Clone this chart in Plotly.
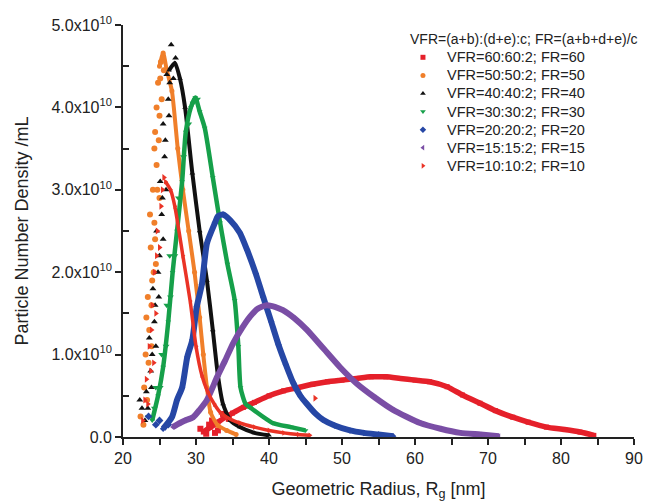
import plotly.graph_objects as go

# values, y in units of 1e10 particles/mL
labels = ['VFR=60:60:2; FR=60', 'VFR=50:50:2; FR=50', 'VFR=40:40:2; FR=40',
          'VFR=30:30:2; FR=30', 'VFR=20:20:2; FR=20', 'VFR=15:15:2; FR=15',
          'VFR=10:10:2; FR=10']
legend_title = 'VFR=(a+b):(d+e):c; FR=(a+b+d+e)/c'
colors = ['#e5202a', '#f07f2a', '#111111', '#16a04a', '#2647a5', '#7a4ea5', '#ea3326']
symbols = ['square', 'circle', 'triangle-up', 'triangle-down', 'diamond',
           'triangle-left', 'triangle-right']

fr60_x = [31.0, 32.0, 33.0, 34.0, 35.0, 36.5, 38, 40, 42, 44, 46, 48, 50, 52, 54, 56,
          58, 60, 62, 64.4, 66.5, 68.9, 71, 73.4, 75.5, 78, 80.5, 82.6, 84.5]
fr60_y = [0.06, 0.12, 0.18, 0.24, 0.29, 0.36, 0.42, 0.50, 0.56, 0.60, 0.64, 0.67, 0.69,
          0.71, 0.73, 0.73, 0.71, 0.69, 0.67, 0.61, 0.51, 0.41, 0.32, 0.24, 0.18, 0.12,
          0.09, 0.06, 0.02]
fr60_cloud_x = [30.6, 31.4, 32.2, 33.0, 31.8, 33.7, 34.5, 32.6]
fr60_cloud_y = [0.10, 0.04, 0.20, 0.08, 0.15, 0.28, 0.22, 0.05]

fr50_x = [25.0, 25.5, 26.0, 26.7, 27.5, 28.2, 29.0, 29.8, 30.5, 31.0, 31.5, 32.0, 33.0,
          34.2, 35.5]
fr50_y = [4.50, 4.66, 4.45, 4.20, 3.50, 3.00, 2.50, 2.00, 1.45, 1.00, 0.60, 0.30, 0.14,
          0.08, 0.03]
fr50_cloud_x = [22.4, 22.9, 23.3, 23.1, 23.6, 23.4, 24.0, 23.8, 24.3, 24.1, 24.6, 24.4,
                25.0, 24.8, 25.2, 25.6, 23.9, 24.5, 25.0, 22.8, 23.5, 23.2, 23.9, 24.2,
                23.7, 24.4, 24.7, 24.3, 24.9, 25.3, 25.1, 24.6]
fr50_cloud_y = [0.25, 0.60, 0.45, 1.00, 1.30, 1.70, 1.90, 2.30, 2.60, 3.00, 3.30, 3.70,
                3.90, 4.30, 4.55, 4.45, 1.10, 2.10, 2.90, 0.15, 0.90, 1.45, 1.60, 2.00,
                2.70, 2.40, 3.00, 3.50, 3.60, 4.10, 4.35, 4.00]

fr40_x = [26.3, 27.1, 27.8, 28.5, 29.5, 30.5, 31.5, 32.3, 33.0, 33.7, 34.7, 36.0, 38.0,
          40.0]
fr40_y = [4.45, 4.54, 4.35, 4.00, 3.20, 2.50, 1.90, 1.30, 0.75, 0.40, 0.20, 0.12, 0.05,
          0.02]
fr40_cloud_x = [22.6, 23.2, 23.0, 23.8, 23.6, 24.3, 24.1, 24.8, 24.6, 25.3, 25.1, 25.7,
                25.5, 26.2, 26.0, 26.6, 27.2, 26.9, 22.3, 23.4, 23.9, 24.0, 24.5, 24.4,
                24.9, 25.0, 25.5, 25.4, 25.9, 25.8, 26.3, 26.4]
fr40_cloud_y = [0.35, 0.55, 0.20, 0.80, 1.20, 1.40, 1.80, 2.00, 2.50, 2.70, 3.10, 3.40,
                3.80, 4.10, 4.40, 4.76, 4.60, 4.35, 0.45, 0.35, 0.60, 1.00, 1.10, 1.60,
                1.70, 2.20, 2.40, 2.90, 3.00, 3.60, 3.90, 4.30]

fr30_x = [24.0, 24.8, 25.5, 26.2, 26.8, 27.4, 28.1, 28.6, 29.3, 29.9, 30.5, 31.2, 32.3,
          33.3, 34.3, 35.3, 35.8, 36.1, 36.8, 37.4, 40.5, 43.0, 45.0]
fr30_y = [0.20, 0.50, 0.85, 1.40, 2.00, 2.50, 3.10, 3.70, 4.00, 4.12, 3.95, 3.75, 3.15,
          2.60, 2.10, 1.66, 1.10, 0.60, 0.40, 0.36, 0.17, 0.12, 0.08]
fr30_cloud_x = [23.5, 24.3, 24.5, 25.1, 25.3, 25.9, 26.0, 26.5, 26.4, 27.1, 27.6, 28.3,
                29.0, 29.6, 30.2]
fr30_cloud_y = [0.25, 0.35, 0.60, 0.60, 1.00, 1.10, 1.60, 1.70, 2.20, 2.20, 2.90, 3.40,
                3.80, 4.05, 4.10]

fr20_x = [25.5, 26.7, 27.4, 28.1, 28.8, 29.5, 30.1, 30.8, 31.5, 32.6, 33.0, 33.7, 34.7,
          36.0, 37.0, 38.2, 39.2, 40.3, 41.3, 42.3, 43.3, 44.3, 45.2, 46.3, 47.4, 49.0,
          51.1, 53.0, 55.0, 57.0]
fr20_y = [0.10, 0.24, 0.45, 0.60, 0.97, 1.18, 1.58, 1.85, 2.35, 2.60, 2.68, 2.70, 2.63,
          2.48, 2.27, 1.98, 1.70, 1.40, 1.12, 0.88, 0.66, 0.50, 0.40, 0.29, 0.21, 0.14,
          0.08, 0.05, 0.03, 0.01]
fr20_cloud_x = [23.5, 24.5, 25.0, 26.2]
fr20_cloud_y = [0.25, 0.15, 0.20, 0.15]

fr15_x = [26.8, 27.8, 28.5, 29.6, 30.5, 31.5, 32.9, 34.0, 35.1, 36.3, 37.4, 38.5, 39.7,
          40.8, 41.9, 43.5, 45.2, 47.5, 49.7, 52.0, 54.5, 57.0, 60.7, 63.5, 66.2, 69.0,
          71.5]
fr15_y = [0.12, 0.17, 0.20, 0.24, 0.33, 0.45, 0.73, 0.93, 1.14, 1.32, 1.46, 1.56, 1.60,
          1.58, 1.54, 1.44, 1.30, 1.07, 0.85, 0.65, 0.48, 0.33, 0.17, 0.10, 0.05, 0.03,
          0.01]

fr10_x = [25.8, 26.5, 27.1, 28.2, 29.2, 30.0, 30.8, 31.6, 32.5, 33.3, 34.2, 36.0, 38.0,
          40.0, 42.0, 44.0, 45.6]
fr10_y = [3.10, 3.00, 2.80, 2.20, 1.65, 1.10, 0.75, 0.55, 0.40, 0.30, 0.24, 0.17, 0.12,
          0.08, 0.05, 0.03, 0.02]
fr10_cloud_x = [22.7, 23.2, 23.6, 23.4, 24.0, 24.3, 24.7, 25.2, 25.6, 24.2, 46.3, 23.0,
                23.8, 23.9, 24.5, 24.6, 25.0, 25.4]
fr10_cloud_y = [0.20, 0.70, 1.10, 0.40, 1.60, 2.00, 2.50, 2.80, 3.15, 0.90, 0.47, 0.45,
                0.80, 1.30, 1.50, 2.20, 2.30, 3.00]

curves = [(fr60_x, fr60_y), (fr50_x, fr50_y), (fr40_x, fr40_y), (fr30_x, fr30_y),
          (fr20_x, fr20_y), (fr15_x, fr15_y), (fr10_x, fr10_y)]
clouds = {0: (fr60_cloud_x, fr60_cloud_y), 1: (fr50_cloud_x, fr50_cloud_y),
          2: (fr40_cloud_x, fr40_cloud_y), 3: (fr30_cloud_x, fr30_cloud_y),
          4: (fr20_cloud_x, fr20_cloud_y), 6: (fr10_cloud_x, fr10_cloud_y)}
widths = [5.5, 4, 4, 4.5, 6, 6, 3.5]

E = 1e10
fig = go.Figure()
for i, (xs, ys) in enumerate(curves):
    fig.add_trace(go.Scatter(x=xs, y=[v * E for v in ys], mode='lines+markers',
                             line=dict(color=colors[i], width=widths[i],
                                       shape='spline', smoothing=0.6),
                             marker=dict(symbol=symbols[i], size=5, color=colors[i]),
                             showlegend=False, hoverinfo='skip'))
    if i in clouds:
        cx, cy = clouds[i]
        fig.add_trace(go.Scatter(x=cx, y=[v * E for v in cy], mode='markers',
                                 marker=dict(symbol=symbols[i], size=6, color=colors[i]),
                                 showlegend=False, hoverinfo='skip'))

# hand-built legend (tighter row spacing than plotly's own legend)
leg_mark_x = 0.587
leg_text_x = 0.630
leg_top = 0.9216
leg_step = 0.0439
leg_ys = [leg_top - k * leg_step for k in range(len(labels))]
fig.add_trace(go.Scatter(x=[leg_mark_x] * len(labels), y=leg_ys, mode='markers',
                         xaxis='x2', yaxis='y2', showlegend=False, hoverinfo='skip',
                         marker=dict(symbol=symbols, size=5, color=colors)))
fig.add_annotation(text=legend_title, xref='paper', yref='paper', x=0.5577, y=0.966,
                   xanchor='left', yanchor='middle', showarrow=False,
                   font=dict(size=14, color='#222222'))
for k, name in enumerate(labels):
    fig.add_annotation(text=name, xref='paper', yref='paper', x=leg_text_x, y=leg_ys[k],
                       xanchor='left', yanchor='middle', showarrow=False,
                       font=dict(size=14.5, color='#222222'))

ytick_vals = [0, 1e10, 2e10, 3e10, 4e10, 5e10]
ytick_text = ['0.0'] + ['%d.0x10<sup>10</sup>' % k for k in range(1, 6)]

fig.update_layout(
    width=654, height=504,
    margin=dict(l=115, r=28, t=17, b=75),
    paper_bgcolor='white', plot_bgcolor='white',
    font=dict(family='Liberation Sans, Arial, sans-serif', color='#222222'),
    showlegend=False,
    xaxis2=dict(overlaying='x', range=[0, 1], visible=False, fixedrange=True),
    yaxis2=dict(overlaying='y', range=[0, 1], visible=False, fixedrange=True),
)
fig.layout.xaxis.update(
    range=[20, 90], tickvals=[20, 30, 40, 50, 60, 70, 80, 90],
    ticks='outside', ticklen=6, tickwidth=1.5, tickcolor='#222222',
    minor=dict(tickvals=[25, 35, 45, 55, 65, 75, 85], ticks='outside',
               ticklen=6, tickwidth=1.5, tickcolor='#222222'),
    showline=True, linewidth=1.8, linecolor='#222222', mirror=False,
    showgrid=False, zeroline=False, tickfont=dict(size=16), automargin=False,
    title=dict(text='Geometric Radius, R<sub>g</sub> [nm]', font=dict(size=18),
               standoff=16))
fig.layout.yaxis.update(
    range=[0, 5e10], tickvals=ytick_vals, ticktext=ytick_text,
    ticks='outside', ticklen=6, tickwidth=1.5, tickcolor='#222222',
    minor=dict(tickvals=[0.5e10, 1.5e10, 2.5e10, 3.5e10, 4.5e10],
               ticks='inside', ticklen=6, tickwidth=1.5, tickcolor='#222222'),
    showline=True, linewidth=1.8, linecolor='#222222', mirror=False,
    showgrid=False, zeroline=False, tickfont=dict(size=16), automargin=False,
    title=dict(text='Particle Number Density /mL', font=dict(size=18), standoff=18))

fig.write_html("out.html")
